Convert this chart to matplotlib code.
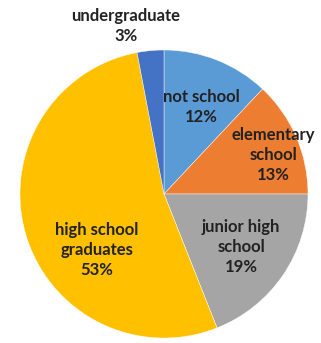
import matplotlib
matplotlib.use("Agg")
import matplotlib.pyplot as plt

categories = ["not school", "elementary\nschool", "junior high\nschool", "high school\ngraduates", "undergraduate"]
percentages = [12, 13, 19, 53, 3]
colors = ["#5B9BD5", "#ED7D31", "#A5A5A5", "#FFC000", "#4472C4"]

# label anchor positions in pie data units (radius = 1)
label_pos = [(0.257, 0.604), (0.757, 0.271), (0.535, -0.368), (-0.465, -0.389), (-0.264, 1.167)]

W, H = 321, 343
fig = plt.figure(figsize=(W / 100, H / 100), dpi=100)
ax = fig.add_axes([0, 0, 1, 1])
ax.pie(percentages, colors=colors, startangle=90, counterclock=False,
       wedgeprops=dict(linewidth=0.3, edgecolor="white"))

for cat, pct, (x, y) in zip(categories, percentages, label_pos):
    ax.text(x, y, f"{cat}\n{pct}%", ha="center", va="center", fontsize=12,
            fontweight="bold", family=["Lato", "DejaVu Sans"], color="#222222",
            linespacing=1.3)

cx, cy, r = 164, 194, 144
ax.set_xlim(-cx / r, (W - cx) / r)
ax.set_ylim((cy - H) / r, cy / r)
ax.set_aspect("auto")
ax.axis("off")
fig.savefig("out.png", dpi=100)
